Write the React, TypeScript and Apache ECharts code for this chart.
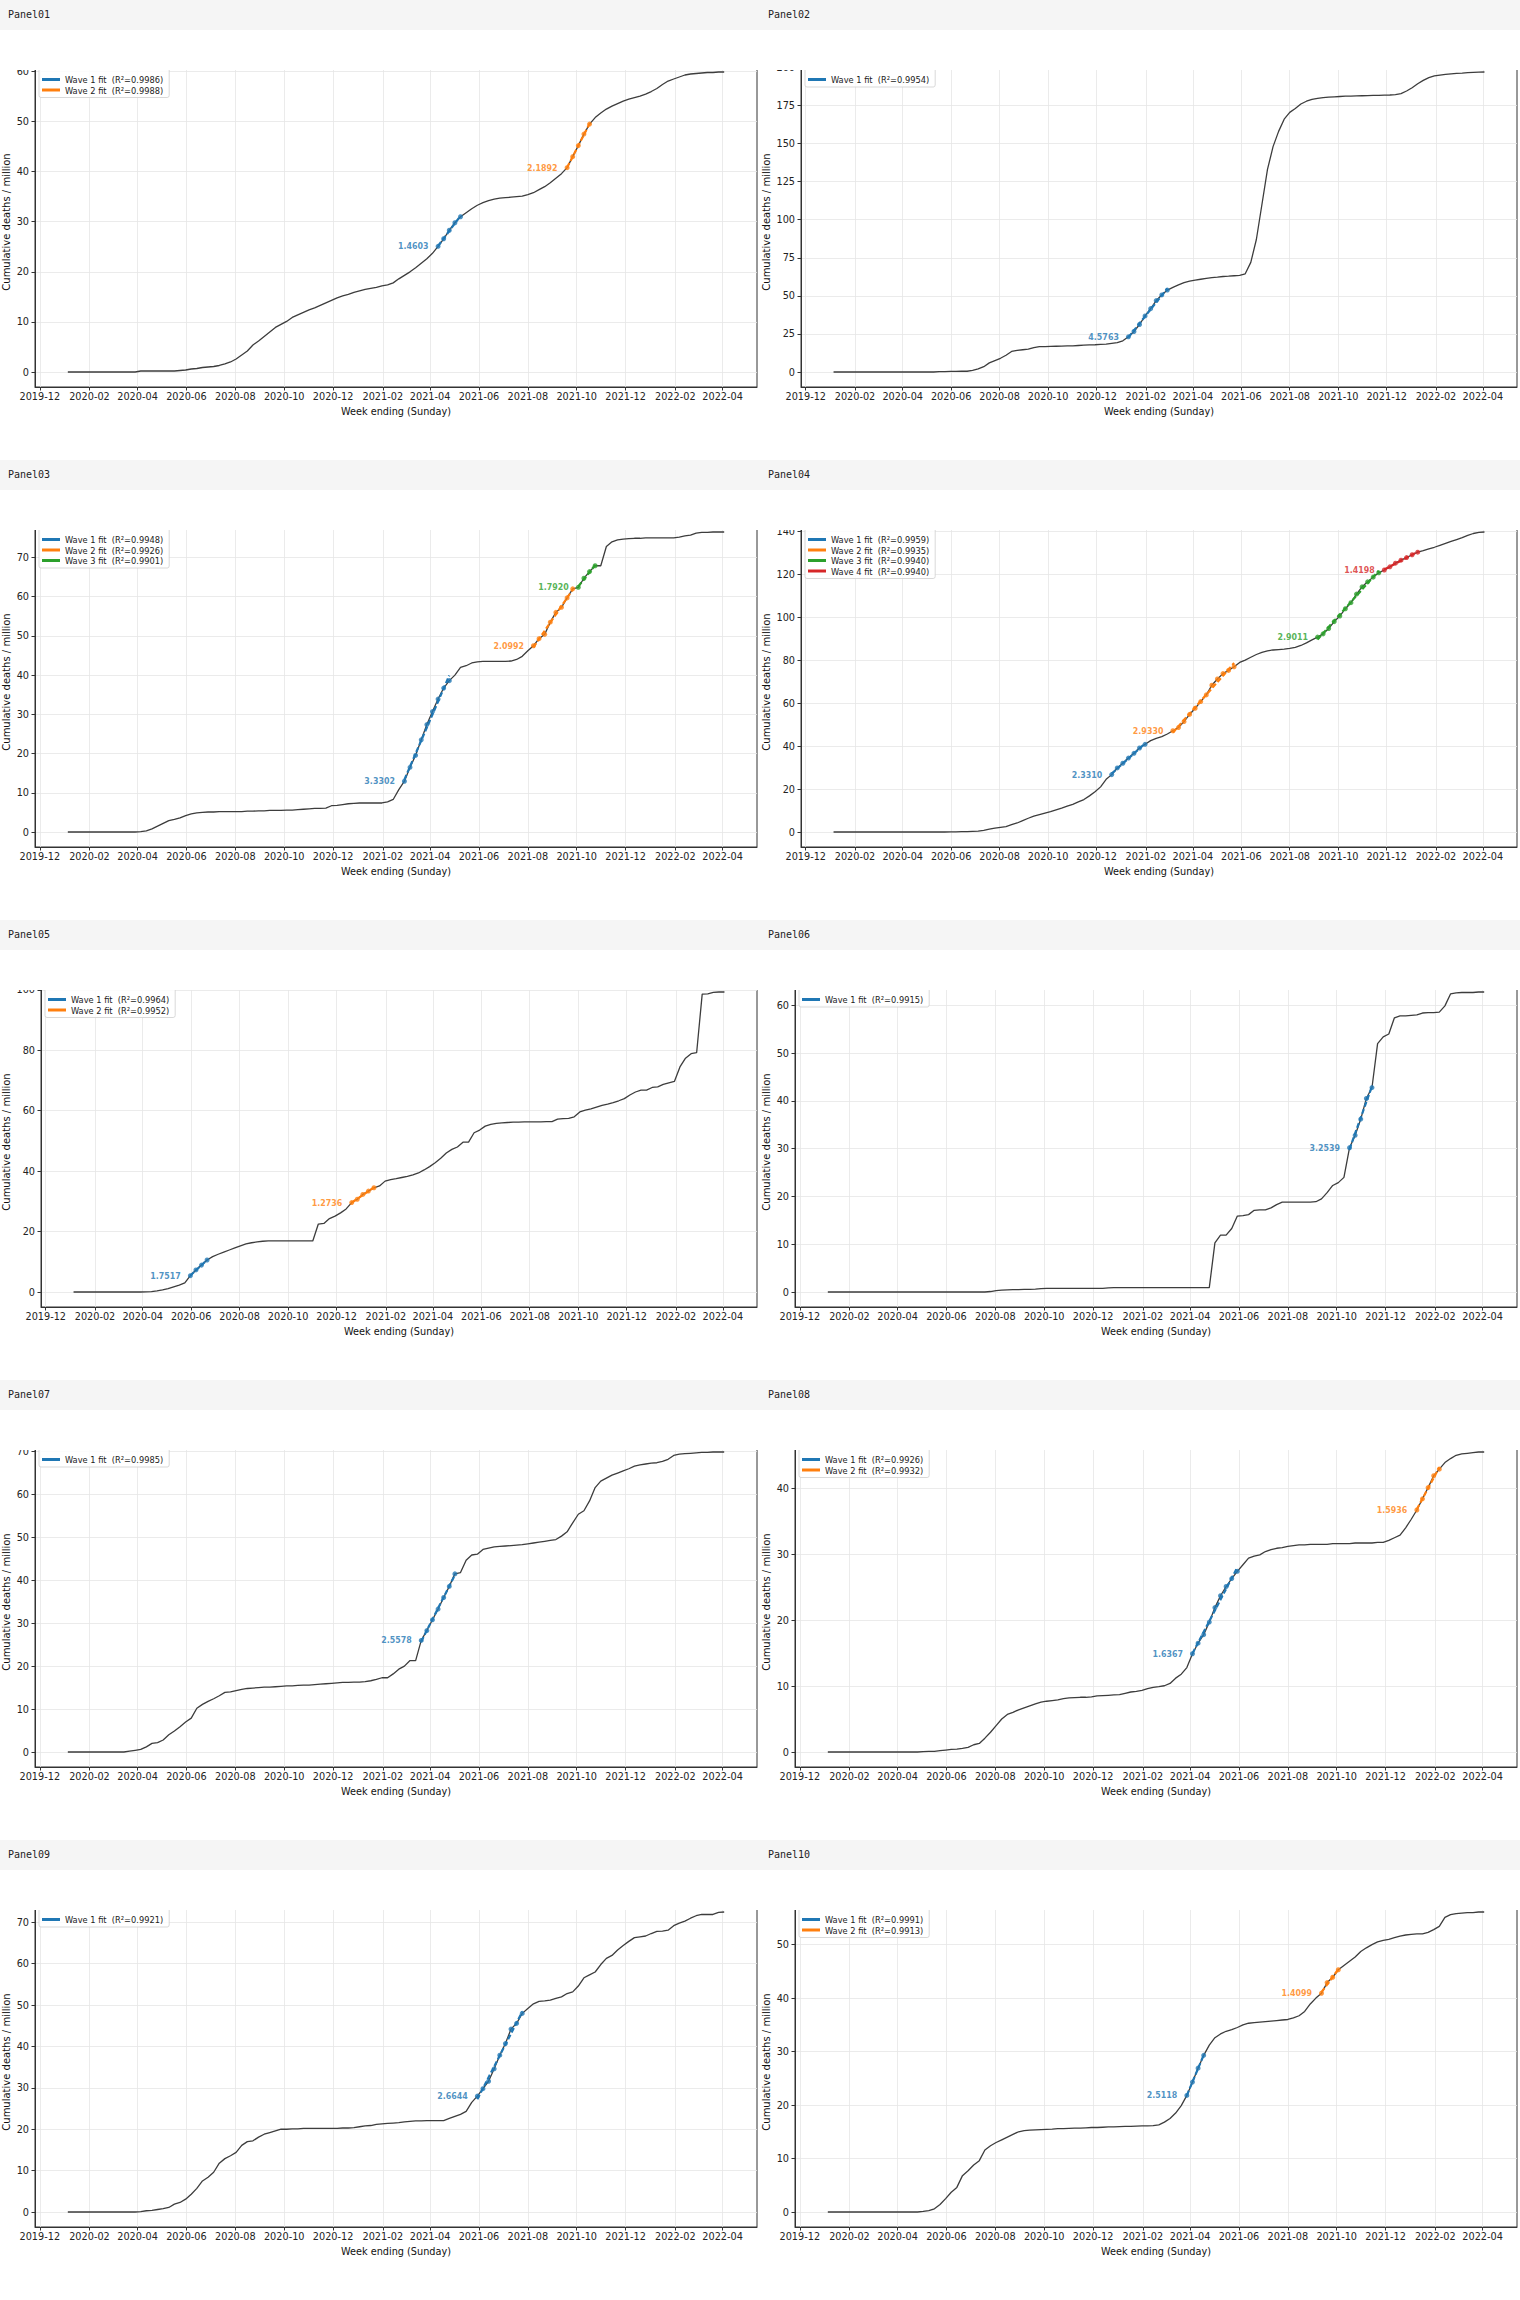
import React, { useEffect, useRef } from 'react';
import * as echarts from 'echarts';

// weekly points, week ending Sunday
const firstWeek = '2020-01-05';
const weekCount = 118;
const xTickLabels = [
  '2019-12', '2020-02', '2020-04', '2020-06', '2020-08', '2020-10', '2020-12',
  '2021-02', '2021-04', '2021-06', '2021-08', '2021-10', '2021-12', '2022-02', '2022-04',
];
const waveColors = ['#1f77b4', '#ff7f0e', '#2ca02c', '#d62728'];

const panel01Values = [
  0, 0, 0, 0, 0, 0, 0, 0, 0, 0,
  0, 0, 0, 0.2, 0.2, 0.2, 0.2, 0.2, 0.2, 0.2,
  0.3, 0.4, 0.6, 0.7, 0.9, 1.0, 1.1, 1.3, 1.6, 2.0,
  2.6, 3.4, 4.2, 5.4, 6.2, 7.1, 8.0, 8.9, 9.5, 10.1,
  10.9, 11.4, 11.9, 12.4, 12.8, 13.3, 13.8, 14.3, 14.8, 15.2,
  15.5, 15.9, 16.2, 16.5, 16.7, 16.9, 17.2, 17.4, 17.8, 18.6,
  19.3, 20.0, 20.8, 21.7, 22.6, 23.7, 25.1, 26.6, 28.3, 29.8,
  31.0, 31.8, 32.6, 33.3, 33.8, 34.2, 34.5, 34.7, 34.8, 34.9,
  35.0, 35.1, 35.4, 35.8, 36.4, 37.0, 37.8, 38.7, 39.6, 40.8,
  43.0, 45.2, 47.5, 49.5, 50.8, 51.7, 52.5, 53.1, 53.6, 54.1,
  54.5, 54.8, 55.1, 55.5, 56.0, 56.6, 57.4, 58.1, 58.5, 58.9,
  59.3, 59.5, 59.6, 59.7, 59.8, 59.8, 59.9, 59.9,
];
const panel01FitStart = [66, 89];
const panel01FitWeeks = [5, 5];
const panel01Slopes = [1.4603, 2.1892];
const panel01R2 = [0.9986, 0.9988];
const panel01YTicks = [0, 10, 20, 30, 40, 50, 60];

const panel02Values = [
  0, 0, 0, 0, 0, 0, 0, 0, 0, 0,
  0, 0, 0, 0, 0, 0, 0, 0, 0, 0.2,
  0.3, 0.4, 0.4, 0.5, 0.5, 1.0, 2.0, 3.5, 6.0, 7.5,
  9.0, 11.0, 13.5, 14.2, 14.6, 15.0, 16.0, 16.6, 16.7, 16.8,
  16.9, 17.0, 17.1, 17.2, 17.4, 17.6, 17.8, 17.9, 18.1, 18.3,
  18.8, 19.3, 20.5, 23.1, 26.6, 31.2, 36.8, 41.6, 46.9, 50.6,
  53.8, 55.6, 57.2, 58.7, 59.7, 60.3, 60.9, 61.5, 62.0, 62.3,
  62.7, 62.9, 63.2, 63.5, 64.5, 72.0, 87.0, 110.0, 133.0, 148.0,
  158.0, 166.0, 170.5, 173.0, 176.0, 177.8, 179.0, 179.7, 180.2, 180.5,
  180.7, 180.9, 181.1, 181.2, 181.3, 181.4, 181.5, 181.6, 181.7, 181.8,
  181.9, 182.1, 182.8, 184.5, 186.7, 189.3, 191.5, 193.3, 194.4, 195.0,
  195.5, 195.8, 196.1, 196.3, 196.6, 196.8, 196.9, 197.0,
];
const panel02FitStart = [53];
const panel02FitWeeks = [8];
const panel02Slopes = [4.5763];
const panel02R2 = [0.9954];
const panel02YTicks = [0, 25, 50, 75, 100, 125, 150, 175, 200];

const panel03Values = [
  0, 0, 0, 0, 0, 0, 0, 0, 0, 0,
  0, 0, 0, 0.1, 0.3, 0.8, 1.5, 2.2, 2.9, 3.2,
  3.6, 4.2, 4.6, 4.9, 5.0, 5.1, 5.1, 5.2, 5.2, 5.2,
  5.2, 5.2, 5.3, 5.3, 5.4, 5.4, 5.5, 5.5, 5.5, 5.6,
  5.6, 5.7, 5.8, 5.9, 6.0, 6.0, 6.1, 6.7, 6.8, 7.0,
  7.2, 7.3, 7.4, 7.4, 7.4, 7.4, 7.4, 7.7, 8.3, 10.8,
  12.95, 16.5, 19.55, 23.5, 27.4, 30.7, 33.9, 36.7, 38.6, 40.0,
  42.0, 42.4, 43.1, 43.4, 43.5, 43.5, 43.5, 43.5, 43.5, 43.6,
  44.0, 44.8, 46.2, 47.5, 49.3, 50.4, 53.5, 56.0, 57.3, 59.7,
  62.0, 62.4, 64.7, 66.4, 67.9, 67.9, 72.8, 74.0, 74.5, 74.7,
  74.8, 74.9, 74.9, 75.0, 75.0, 75.0, 75.0, 75.0, 75.0, 75.2,
  75.5, 75.7, 76.2, 76.4, 76.4, 76.5, 76.5, 76.5,
];
const panel03FitStart = [60, 83, 91];
const panel03FitWeeks = [9, 8, 4];
const panel03Slopes = [3.3302, 2.0992, 1.792];
const panel03R2 = [0.9948, 0.9926, 0.9901];
const panel03YTicks = [0, 10, 20, 30, 40, 50, 60, 70];

const panel04Values = [
  0, 0, 0, 0, 0, 0, 0, 0, 0, 0,
  0, 0, 0, 0, 0, 0, 0, 0, 0, 0,
  0, 0.1, 0.1, 0.2, 0.2, 0.3, 0.4, 0.8, 1.3, 1.8,
  2.2, 2.5, 3.4, 4.2, 5.3, 6.4, 7.4, 8.1, 8.8, 9.5,
  10.3, 11.1, 12.0, 12.9, 14.0, 15.1, 16.8, 18.7, 21.0, 24.5,
  26.7, 29.8, 32.0, 34.4, 36.6, 39.1, 40.8, 42.5, 43.6, 44.4,
  45.6, 47.1, 48.6, 51.4, 54.7, 57.6, 60.7, 63.8, 68.3, 71.2,
  73.7, 75.2, 76.9, 78.9, 80.0, 81.3, 82.6, 83.6, 84.3, 84.7,
  84.9, 85.1, 85.4, 85.9, 86.8, 88.0, 89.4, 90.7, 92.2, 94.7,
  97.9, 100.5, 103.9, 106.7, 110.7, 114.1, 116.4, 118.6, 120.6, 121.9,
  123.4, 125.1, 126.5, 127.7, 129.0, 130.2, 130.9, 131.7, 132.5, 133.4,
  134.3, 135.2, 136.1, 137.0, 138.0, 138.9, 139.4, 139.6,
];
const panel04FitStart = [50, 61, 87, 99];
const panel04FitWeeks = [7, 12, 12, 7];
const panel04Slopes = [2.331, 2.933, 2.9011, 1.4198];
const panel04R2 = [0.9959, 0.9935, 0.994, 0.994];
const panel04YTicks = [0, 20, 40, 60, 80, 100, 120, 140];

const panel05Values = [
  0, 0, 0, 0, 0, 0, 0, 0, 0, 0,
  0, 0, 0, 0.05, 0.15, 0.4, 0.7, 1.1, 1.7, 2.3,
  3.0, 5.4, 7.3, 8.9, 10.6, 11.7, 12.5, 13.2, 13.9, 14.6,
  15.3, 15.9, 16.3, 16.6, 16.8, 16.9, 16.9, 16.9, 16.9, 16.9,
  16.9, 16.9, 16.9, 16.9, 22.5, 22.7, 24.3, 25.1, 26.2, 27.5,
  29.6, 30.7, 32.3, 33.4, 34.5, 35.1, 36.7, 37.2, 37.5, 37.9,
  38.3, 38.8, 39.4, 40.4, 41.5, 42.8, 44.3, 46.0, 47.2, 48.0,
  49.6, 49.6, 52.7, 53.6, 54.9, 55.5, 55.8, 56.0, 56.1, 56.2,
  56.2, 56.3, 56.3, 56.3, 56.3, 56.4, 56.4, 57.2, 57.4, 57.5,
  58.0, 59.6, 60.2, 60.6, 61.2, 61.8, 62.2, 62.7, 63.3, 64.0,
  65.2, 66.2, 66.8, 66.8, 67.7, 67.9, 68.7, 69.2, 69.7, 74.5,
  77.4, 78.9, 79.2, 98.6, 98.7, 99.2, 99.3, 99.3,
];
const panel05FitStart = [21, 50];
const panel05FitWeeks = [4, 5];
const panel05Slopes = [1.7517, 1.2736];
const panel05R2 = [0.9964, 0.9952];
const panel05YTicks = [0, 20, 40, 60, 80, 100];

const panel06Values = [
  0, 0, 0, 0, 0, 0, 0, 0, 0, 0,
  0, 0, 0, 0, 0, 0, 0, 0, 0, 0,
  0, 0, 0, 0, 0, 0, 0, 0, 0, 0.1,
  0.3, 0.4, 0.45, 0.5, 0.5, 0.55, 0.55, 0.6, 0.7, 0.75,
  0.75, 0.75, 0.75, 0.75, 0.75, 0.75, 0.75, 0.75, 0.75, 0.75,
  0.85, 0.9, 0.9, 0.9, 0.9, 0.9, 0.9, 0.9, 0.9, 0.9,
  0.9, 0.9, 0.9, 0.9, 0.9, 0.9, 0.9, 0.9, 0.9, 10.3,
  11.9, 11.9, 13.3, 15.9, 16.0, 16.2, 17.1, 17.2, 17.2, 17.6,
  18.3, 18.8, 18.8, 18.8, 18.8, 18.8, 18.8, 18.9, 19.5, 20.8,
  22.3, 22.9, 24.0, 30.2, 32.8, 36.2, 40.5, 42.8, 52.0, 53.4,
  54.0, 57.4, 57.8, 57.8, 57.9, 58.0, 58.4, 58.5, 58.5, 58.6,
  59.9, 62.4, 62.6, 62.7, 62.7, 62.7, 62.8, 62.8,
];
const panel06FitStart = [93];
const panel06FitWeeks = [5];
const panel06Slopes = [3.2539];
const panel06R2 = [0.9915];
const panel06YTicks = [0, 10, 20, 30, 40, 50, 60];

const panel07Values = [
  0, 0, 0, 0, 0, 0, 0, 0, 0, 0,
  0, 0.2, 0.4, 0.6, 1.2, 2.0, 2.2, 2.8, 4.0, 4.9,
  5.9, 7.0, 7.9, 10.2, 11.1, 11.8, 12.4, 13.1, 13.9, 14.0,
  14.3, 14.6, 14.8, 14.9, 15.0, 15.1, 15.1, 15.2, 15.3, 15.4,
  15.4, 15.5, 15.6, 15.6, 15.7, 15.8, 15.9, 16.0, 16.1, 16.2,
  16.2, 16.3, 16.3, 16.4, 16.6, 16.9, 17.3, 17.3, 18.2, 19.3,
  20.0, 21.3, 21.3, 26.0, 28.3, 30.8, 33.3, 36.0, 38.6, 41.5,
  41.8, 44.7, 45.9, 46.1, 47.2, 47.5, 47.8, 47.9, 48.0, 48.1,
  48.2, 48.3, 48.5, 48.7, 48.9, 49.1, 49.3, 49.5, 50.3, 51.3,
  53.4, 55.4, 56.2, 58.5, 61.6, 63.1, 63.8, 64.5, 65.0, 65.5,
  66.0, 66.6, 66.9, 67.1, 67.3, 67.4, 67.7, 68.2, 69.1, 69.4,
  69.5, 69.6, 69.7, 69.8, 69.8, 69.9, 69.9, 69.9,
];
const panel07FitStart = [63];
const panel07FitWeeks = [7];
const panel07Slopes = [2.5578];
const panel07R2 = [0.9985];
const panel07YTicks = [0, 10, 20, 30, 40, 50, 60, 70];

const panel08Values = [
  0, 0, 0, 0, 0, 0, 0, 0, 0, 0,
  0, 0, 0, 0, 0, 0, 0, 0.05, 0.1, 0.1,
  0.2, 0.3, 0.4, 0.45, 0.55, 0.7, 1.1, 1.3, 2.1, 3.0,
  4.0, 5.0, 5.7, 6.0, 6.4, 6.7, 7.0, 7.3, 7.55, 7.7,
  7.8, 7.9, 8.1, 8.2, 8.25, 8.3, 8.3, 8.35, 8.5, 8.55,
  8.6, 8.65, 8.7, 8.9, 9.1, 9.2, 9.35, 9.6, 9.8, 9.9,
  10.05, 10.4, 11.2, 11.8, 12.8, 14.9, 16.5, 17.8, 19.7, 21.9,
  23.7, 25.1, 26.3, 27.4, 28.4, 29.4, 29.7, 29.9, 30.4, 30.7,
  30.9, 31.0, 31.2, 31.3, 31.4, 31.4, 31.5, 31.5, 31.5, 31.5,
  31.6, 31.6, 31.6, 31.6, 31.7, 31.7, 31.7, 31.7, 31.8, 31.8,
  32.1, 32.5, 32.9, 34.0, 35.3, 36.7, 38.4, 40.1, 41.9, 42.9,
  43.9, 44.5, 45.0, 45.2, 45.3, 45.4, 45.5, 45.5,
];
const panel08FitStart = [65, 105];
const panel08FitWeeks = [9, 5];
const panel08Slopes = [1.6367, 1.5936];
const panel08R2 = [0.9926, 0.9932];
const panel08YTicks = [0, 10, 20, 30, 40];

const panel09Values = [
  0, 0, 0, 0, 0, 0, 0, 0, 0, 0,
  0, 0, 0, 0.1, 0.3, 0.4, 0.6, 0.8, 1.1, 1.9,
  2.3, 3.1, 4.3, 5.7, 7.5, 8.4, 9.6, 11.8, 12.9, 13.6,
  14.4, 16.1, 17.0, 17.2, 18.1, 18.8, 19.2, 19.6, 20.0, 20.0,
  20.1, 20.1, 20.2, 20.2, 20.2, 20.2, 20.2, 20.2, 20.2, 20.3,
  20.3, 20.4, 20.6, 20.8, 20.9, 21.2, 21.3, 21.4, 21.5, 21.6,
  21.8, 21.9, 22.0, 22.0, 22.1, 22.1, 22.1, 22.1, 22.6, 23.1,
  23.6, 24.3, 26.5, 28.0, 29.8, 31.6, 34.6, 37.9, 40.7, 44.2,
  45.6, 48.0, 49.2, 50.3, 50.9, 51.0, 51.2, 51.6, 52.0, 52.8,
  53.2, 54.6, 56.6, 57.3, 58.0, 59.8, 61.3, 62.0, 63.3, 64.4,
  65.4, 66.3, 66.5, 66.7, 67.3, 67.8, 67.9, 68.1, 69.2, 69.8,
  70.3, 71.0, 71.6, 71.9, 71.9, 71.9, 72.4, 72.5,
];
const panel09FitStart = [73];
const panel09FitWeeks = [9];
const panel09Slopes = [2.6644];
const panel09R2 = [0.9921];
const panel09YTicks = [0, 10, 20, 30, 40, 50, 60, 70];

const panel10Values = [
  0, 0, 0, 0, 0, 0, 0, 0, 0, 0,
  0, 0, 0, 0, 0, 0, 0, 0.1, 0.25, 0.6,
  1.4, 2.5, 3.7, 4.6, 6.8, 7.7, 8.8, 9.6, 11.6, 12.4,
  13.0, 13.5, 14.0, 14.5, 15.0, 15.2, 15.3, 15.35, 15.4, 15.45,
  15.5, 15.6, 15.6, 15.65, 15.7, 15.7, 15.75, 15.8, 15.8, 15.85,
  15.9, 15.9, 15.95, 16.0, 16.0, 16.05, 16.1, 16.1, 16.15, 16.3,
  16.8, 17.5, 18.5, 19.9, 21.8, 24.3, 26.9, 29.3, 31.2, 32.6,
  33.3, 33.8, 34.1, 34.5, 35.0, 35.3, 35.4, 35.5, 35.6, 35.7,
  35.8, 35.9, 36.0, 36.3, 36.7, 37.5, 38.9, 40.0, 40.9, 42.9,
  43.9, 45.3, 46.1, 46.9, 47.7, 48.7, 49.4, 50.0, 50.5, 50.8,
  51.0, 51.3, 51.6, 51.8, 51.9, 52.0, 52.0, 52.3, 52.8, 53.4,
  55.1, 55.6, 55.8, 55.9, 56.0, 56.0, 56.1, 56.1,
];
const panel10FitStart = [64, 88];
const panel10FitWeeks = [4, 4];
const panel10Slopes = [2.5118, 1.4099];
const panel10R2 = [0.9991, 0.9913];
const panel10YTicks = [0, 10, 20, 30, 40, 50];

interface PanelSpec {
  title: string;
  values: number[];
  fitStart: number[];
  fitWeeks: number[];
  slopes: number[];
  r2: number[];
  yTicks: number[];
}

const panels: PanelSpec[] = [
  { title: 'Panel01', values: panel01Values, fitStart: panel01FitStart, fitWeeks: panel01FitWeeks, slopes: panel01Slopes, r2: panel01R2, yTicks: panel01YTicks },
  { title: 'Panel02', values: panel02Values, fitStart: panel02FitStart, fitWeeks: panel02FitWeeks, slopes: panel02Slopes, r2: panel02R2, yTicks: panel02YTicks },
  { title: 'Panel03', values: panel03Values, fitStart: panel03FitStart, fitWeeks: panel03FitWeeks, slopes: panel03Slopes, r2: panel03R2, yTicks: panel03YTicks },
  { title: 'Panel04', values: panel04Values, fitStart: panel04FitStart, fitWeeks: panel04FitWeeks, slopes: panel04Slopes, r2: panel04R2, yTicks: panel04YTicks },
  { title: 'Panel05', values: panel05Values, fitStart: panel05FitStart, fitWeeks: panel05FitWeeks, slopes: panel05Slopes, r2: panel05R2, yTicks: panel05YTicks },
  { title: 'Panel06', values: panel06Values, fitStart: panel06FitStart, fitWeeks: panel06FitWeeks, slopes: panel06Slopes, r2: panel06R2, yTicks: panel06YTicks },
  { title: 'Panel07', values: panel07Values, fitStart: panel07FitStart, fitWeeks: panel07FitWeeks, slopes: panel07Slopes, r2: panel07R2, yTicks: panel07YTicks },
  { title: 'Panel08', values: panel08Values, fitStart: panel08FitStart, fitWeeks: panel08FitWeeks, slopes: panel08Slopes, r2: panel08R2, yTicks: panel08YTicks },
  { title: 'Panel09', values: panel09Values, fitStart: panel09FitStart, fitWeeks: panel09FitWeeks, slopes: panel09Slopes, r2: panel09R2, yTicks: panel09YTicks },
  { title: 'Panel10', values: panel10Values, fitStart: panel10FitStart, fitWeeks: panel10FitWeeks, slopes: panel10Slopes, r2: panel10R2, yTicks: panel10YTicks },
];

const DAY = 24 * 3600 * 1000;
const [fy, fm, fd] = firstWeek.split('-').map(Number);
const weeks = Array.from({ length: weekCount }, (_, i) => Date.UTC(fy, fm - 1, fd) + i * 7 * DAY);
const xTickValues = xTickLabels.map((s) => {
  const [y, m] = s.split('-').map(Number);
  return Date.UTC(y, m - 1, 1);
});

const condensed = "'DejaVu Sans Condensed', 'DejaVu Sans', sans-serif";

const buildOption = (p: PanelSpec) => {
  const maxV = Math.max(...p.values);
  const t0 = weeks[0];
  const t1 = weeks[weeks.length - 1];
  const pad = (t1 - t0) * 0.05;
  const gridLeft = p.yTicks[p.yTicks.length - 1] >= 100 ? 41 : 35;

  const waveSeries: any[] = [];
  const legendNames: string[] = [];
  p.fitStart.forEach((start, k) => {
    const n = p.fitWeeks[k];
    const color = waveColors[k];
    const ys = p.values.slice(start, start + n);
    // least-squares line through the wave's weekly points
    const mx = (n - 1) / 2;
    const my = ys.reduce((a, b) => a + b, 0) / n;
    let sxy = 0;
    let sxx = 0;
    ys.forEach((y, i) => {
      sxy += (i - mx) * (y - my);
      sxx += (i - mx) * (i - mx);
    });
    const b = sxy / sxx;
    const a = my - b * mx;
    const name = `Wave ${k + 1} fit  (R²=${p.r2[k].toFixed(4)})`;
    legendNames.push(name);
    waveSeries.push({
      type: 'line',
      name,
      data: [
        [weeks[start], a],
        [weeks[start + n - 1], a + b * (n - 1)],
      ],
      showSymbol: false,
      color,
      lineStyle: { color, width: 2.2, type: [5, 2.5] },
      z: 3,
    });
    waveSeries.push({
      type: 'scatter',
      name: `${name} points`,
      symbol: 'circle',
      symbolSize: 5,
      itemStyle: { color },
      z: 4,
      label: {
        show: false,
        position: 'left',
        distance: 7,
        color,
        fontWeight: 'bold',
        fontSize: 8.8,
        fontFamily: condensed,
      },
      data: ys.map((y, i) =>
        i === 0
          ? { value: [weeks[start + i], y], label: { show: true, formatter: p.slopes[k].toFixed(4) } }
          : { value: [weeks[start + i], y] }
      ),
    });
  });

  return {
    animation: false,
    grid: {
      left: gridLeft,
      right: 3,
      top: 7,
      bottom: 43,
      containLabel: false,
      outerBoundsMode: 'none',
      show: true,
      borderColor: '#333',
      borderWidth: 1,
    },
    legend: {
      data: legendNames.map((name) => ({ name, icon: 'rect' })),
      orient: 'vertical',
      left: gridLeft + 4,
      top: 12,
      itemWidth: 18,
      itemHeight: 3,
      itemGap: 1.5,
      padding: [13, 6, 3, 3],
      backgroundColor: 'rgba(255,255,255,0.85)',
      borderColor: '#cfcfcf',
      borderWidth: 0.8,
      borderRadius: 2,
      selectedMode: false,
      textStyle: { fontSize: 9.2, color: '#222', fontFamily: condensed },
    },
    xAxis: {
      type: 'value',
      min: t0 - pad,
      max: t1 + pad,
      scale: true,
      name: 'Week ending (Sunday)',
      nameLocation: 'middle',
      nameGap: 19,
      nameMoveOverlap: false,
      nameTextStyle: { fontSize: 10.8, color: '#111', fontFamily: condensed },
      axisLine: { show: true, onZero: false, lineStyle: { color: '#333', width: 1 } },
      axisTick: { show: true, length: 3.5, customValues: xTickValues, lineStyle: { color: '#333' } },
      axisLabel: {
        customValues: xTickValues,
        margin: 4,
        fontSize: 10.8,
        color: '#222',
        fontFamily: condensed,
        hideOverlap: false,
        formatter: (v: number) => {
          const idx = xTickValues.indexOf(v);
          return idx >= 0 ? xTickLabels[idx] : '';
        },
      },
      splitLine: { show: true, lineStyle: { color: '#e6e6e6', width: 0.8 } },
    },
    yAxis: {
      type: 'value',
      min: -0.05 * maxV,
      max: 1.05 * maxV,
      name: 'Cumulative deaths / million',
      nameLocation: 'middle',
      nameGap: gridLeft - 11,
      nameMoveOverlap: false,
      nameTextStyle: { fontSize: 10, color: '#111', fontFamily: "'DejaVu Sans', sans-serif" },
      axisLine: { show: true, onZero: false, lineStyle: { color: '#333', width: 1 } },
      axisTick: { show: true, length: 3.5, customValues: p.yTicks, lineStyle: { color: '#333' } },
      axisLabel: {
        customValues: p.yTicks,
        margin: 6,
        fontSize: 10.8,
        color: '#222',
        fontFamily: condensed,
      },
      splitLine: { show: true, lineStyle: { color: '#e6e6e6', width: 0.8 } },
    },
    series: [
      {
        type: 'line',
        name: 'Weekly cumulative',
        data: p.values.map((v, i) => [weeks[i], v]),
        showSymbol: false,
        color: '#3d3d3d',
        lineStyle: { color: '#3d3d3d', width: 1.3 },
        z: 2,
      },
      ...waveSeries,
    ],
  };
};

const Panel: React.FC<{ panel: PanelSpec }> = ({ panel }) => {
  const chartRef = useRef<HTMLDivElement>(null);

  useEffect(() => {
    if (!chartRef.current) return;
    const chart = echarts.init(chartRef.current, undefined, { renderer: 'svg' });
    chart.setOption(buildOption(panel) as any);
    return () => {
      chart.dispose();
    };
  }, [panel]);

  return (
    <div style={{ position: 'relative', width: 760, height: 460, background: '#fff' }}>
      <div
        style={{
          height: 30,
          lineHeight: '29px',
          background: '#f5f5f5',
          paddingLeft: 8,
          fontFamily: "'DejaVu Sans Mono', monospace",
          fontSize: 10,
          color: '#222',
        }}
      >
        {panel.title}
      </div>
      {/* the figure is shown slightly cropped at its top edge */}
      <div style={{ position: 'absolute', top: 70, left: 0, width: 760, height: 360, overflow: 'hidden' }}>
        <div ref={chartRef} style={{ position: 'absolute', top: -20, left: 0, width: 760, height: 380 }} />
      </div>
    </div>
  );
};

const App: React.FC = () => {
  return (
    <div style={{ width: 1520, display: 'grid', gridTemplateColumns: '760px 760px', background: '#fff' }}>
      <style>{'body { margin: 0; }'}</style>
      {panels.map((p) => (
        <Panel key={p.title} panel={p} />
      ))}
    </div>
  );
};

export default App;
